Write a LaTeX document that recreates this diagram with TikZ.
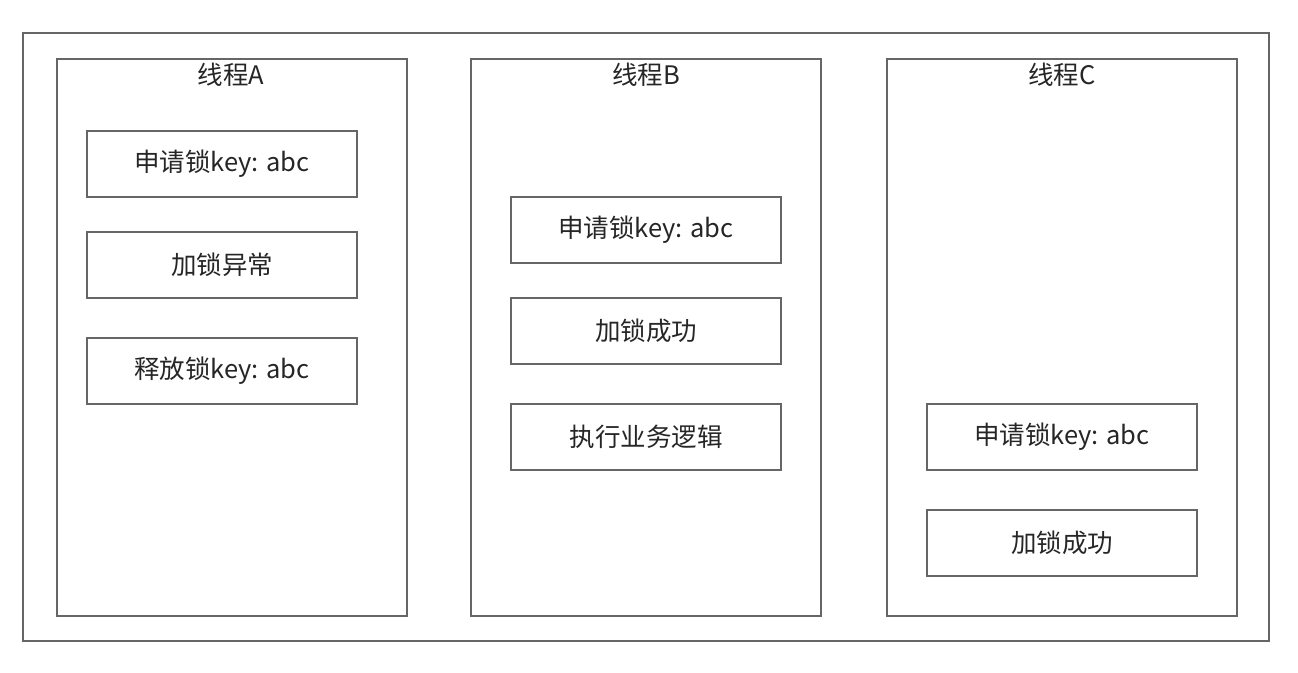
\documentclass[tikz,border=0pt]{standalone}
\usepackage{fontspec}
\setmainfont{Noto Sans CJK SC}
\tikzset{
  frame/.style={draw=black!60, line width=2pt},
  box/.style={draw=black!60, line width=2pt, minimum width=270pt, minimum height=66pt, inner sep=0pt, font=\fontsize{25.5}{30}\selectfont, text=black!85},
  title/.style={font=\fontsize{25.5}{30}\selectfont, text=black!85, inner sep=0pt},
}
\begin{document}
\begin{tikzpicture}[x=1pt,y=-1pt]
\useasboundingbox (0,0) rectangle (1298,672);
\draw[frame] (23,33) rectangle (1269,641);
% thread boxes
\draw[frame] (57,59) rectangle (407,616);
\draw[frame] (471,59) rectangle (821,616);
\draw[frame] (887,59) rectangle (1237,616);
\node[title] (ta) at (231,75) {线程A};
\node[title] (tb) at (646,75) {线程B};
\node[title] (tc) at (1062,75) {线程C};
% A
\node[box] (a1) at (222,163.5) {申请锁key: abc};
\node[box] (a2) at (222,265) {加锁异常};
\node[box] (a3) at (222,371) {释放锁key: abc};
% B
\node[box] (b1) at (646,230) {申请锁key: abc};
\node[box] (b2) at (646,330.5) {加锁成功};
\node[box] (b3) at (646,437) {执行业务逻辑};
% C
\node[box] (c1) at (1062,437) {申请锁key: abc};
\node[box] (c2) at (1062,543) {加锁成功};
\end{tikzpicture}
\end{document}
